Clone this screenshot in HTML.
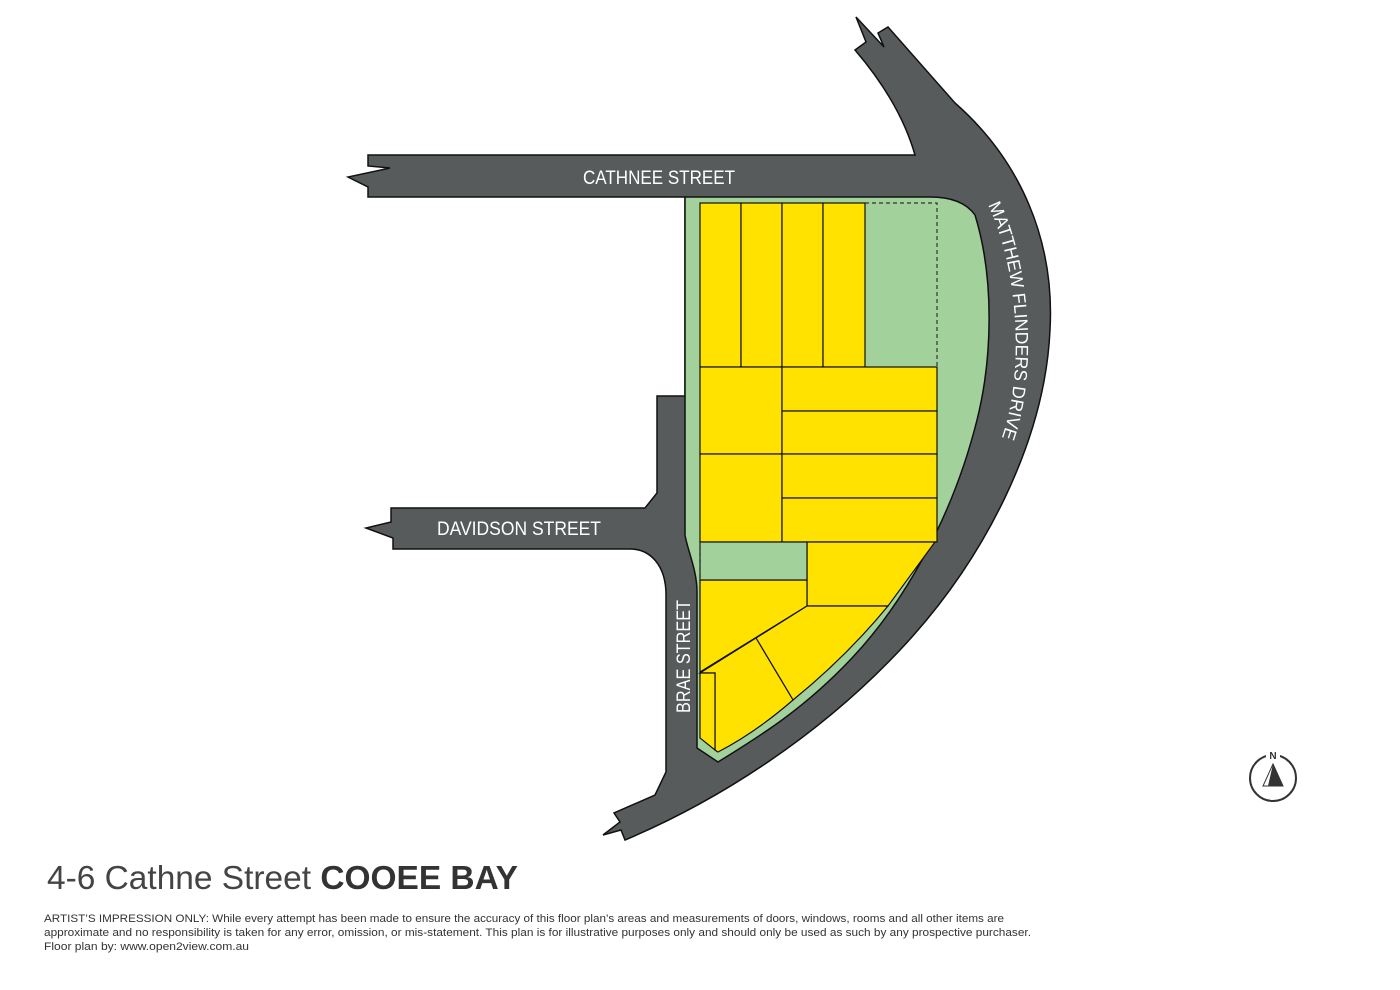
<!DOCTYPE html>
<html><head><meta charset="utf-8"><style>
html,body{margin:0;padding:0;background:#fff;width:1400px;height:990px;overflow:hidden}
svg{position:absolute;left:0;top:0}
.t{font-family:"Liberation Sans",sans-serif}
</style></head><body>
<svg width="1400" height="990" viewBox="0 0 1400 990">
<defs><path id="mf" d="M988,205 C1010,250 1020,320 1014,380 C1011,410 1005,430 998,448" fill="none"/></defs>
<path d="M368,155 L915,155 C905,120 885,85 855,50 L866,42 L856,17 L884,47 L878,33 L888,27 L955,103 C1020,160 1055,240 1050,330 C1045,440 985,560 900,650 C820,735 720,800 625,840 L621,830 L603,835 L620,822 L614,813 L655,795 L666,772 L666,595 C666,565 650,549 630,549 L393,549 L393,538 L366,528 L391,522 L391,508 L645,508 L657,493 L657,396 L685,396 L685,197 L368,197 L368,187 L348,177 L390,168 L368,166 Z" fill="#575b5b" stroke="#111" stroke-width="1.5" stroke-linejoin="miter"/>
<path d="M685,197 L930,197 C955,197 968,205 975,215 C995,280 992,360 977,420 C952,520 902,605 852,658 C805,708 762,735 718,762 L697,748 L697,592 C697,570 688,552 685,535 Z" fill="#a2d19c" stroke="#111" stroke-width="1.5"/>
<g fill="#ffe200" stroke="#111" stroke-width="1.2">
<rect x="700" y="203" width="41" height="164"/>
<rect x="741" y="203" width="41" height="164"/>
<rect x="782" y="203" width="41" height="164"/>
<rect x="823" y="203" width="42" height="164"/>
<rect x="700" y="367" width="82" height="87"/>
<rect x="700" y="454" width="82" height="88"/>
<rect x="782" y="367" width="155" height="44"/>
<rect x="782" y="411" width="155" height="43"/>
<rect x="782" y="454" width="155" height="44"/>
<rect x="782" y="498" width="155" height="44"/>
<path d="M807,542 L935,542 L888,606 L807,606 Z"/>
<path d="M700,580 L807,580 L807,606 L700,672 Z"/>
<path d="M807,606 L888,606 C860,640 830,670 793,700 L756,638 Z"/>
<path d="M756,638 L793,700 C770,720 745,738 718,752 L715,750 L715,673 L700,673 Z"/>
<path d="M700,673 L715,673 L715,750 L700,738 Z"/>
</g>
<rect x="700" y="542" width="107" height="38" fill="#a2d19c" stroke="#111" stroke-width="1.2"/>
<path d="M865,203 L937,203 L937,367" fill="none" stroke="#333" stroke-width="1.2" stroke-dasharray="4,3"/>
<path d="M700,542 L700,580" fill="none" stroke="#333" stroke-width="1.2" stroke-dasharray="4,3"/>
<g class="t" fill="#fff" font-size="19">
<text x="583" y="184" textLength="152" lengthAdjust="spacingAndGlyphs">CATHNEE STREET</text>
<text x="437" y="535" textLength="164" lengthAdjust="spacingAndGlyphs">DAVIDSON STREET</text>
<text transform="translate(690,713) rotate(-90)" textLength="113" lengthAdjust="spacingAndGlyphs">BRAE STREET</text>
<text font-size="18"><textPath href="#mf" textLength="238" lengthAdjust="spacingAndGlyphs">MATTHEW FLINDERS DRIVE</textPath></text>
</g>
<circle cx="1273" cy="778" r="23" fill="none" stroke="#333" stroke-width="2"/>
<rect x="1266" y="750" width="14" height="10" fill="#fff"/>
<text x="1273" y="759" class="t" font-size="10" font-weight="bold" fill="#333" text-anchor="middle">N</text>
<path d="M1273,764 L1283,786 L1263,786 Z" fill="#fff" stroke="#333" stroke-width="1"/>
<path d="M1273,764 L1283,786 L1268,786 Z" fill="#333"/>
<text x="47" y="889" class="t" font-size="33" fill="#444" textLength="471" lengthAdjust="spacingAndGlyphs">4-6 Cathne Street <tspan font-weight="bold" fill="#333">COOEE BAY</tspan></text>
<g class="t" font-size="11" fill="#333">
<text x="44" y="922" textLength="960" lengthAdjust="spacingAndGlyphs">ARTIST’S IMPRESSION ONLY: While every attempt has been made to ensure the accuracy of this floor plan’s areas and measurements of doors, windows, rooms and all other items are</text>
<text x="44" y="936" textLength="987" lengthAdjust="spacingAndGlyphs">approximate and no responsibility is taken for any error, omission, or mis-statement. This plan is for illustrative purposes only and should only be used as such by any prospective purchaser.</text>
<text x="44" y="950" textLength="205" lengthAdjust="spacingAndGlyphs">Floor plan by: www.open2view.com.au</text>
</g>
</svg>
</body></html>
